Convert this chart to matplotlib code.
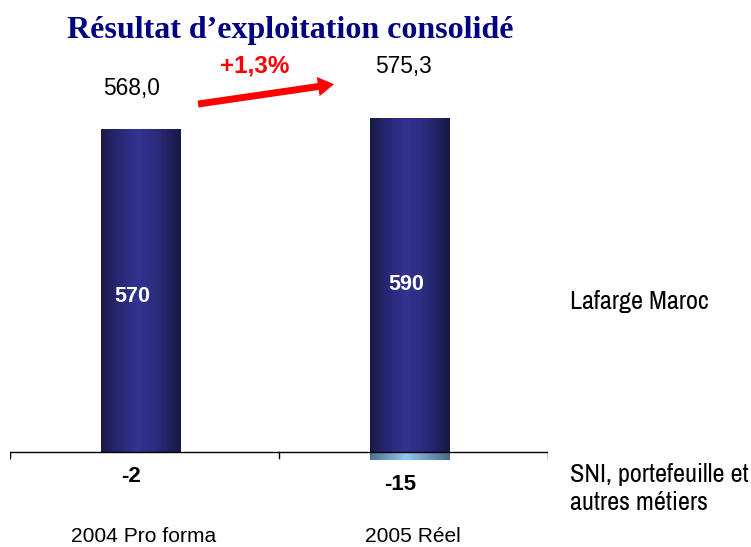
import numpy as np
import matplotlib
matplotlib.use("Agg")
import matplotlib.pyplot as plt
from matplotlib import font_manager as fm
from matplotlib.colors import LinearSegmentedColormap

categories = ["2004 Pro forma", "2005 Réel"]
lafarge = [570, 590]
sni = [-2, -15]
totals = ["568,0", "575,3"]
growth = "+1,3%"
series_names = ["Lafarge Maroc", "SNI, portefeuille et", "autres métiers"]
title = "Résultat d\u2019exploitation consolidé"

available = {f.name for f in fm.fontManager.ttflist}


def pick(cands):
    for c in cands:
        if c in available:
            return c
    return "DejaVu Sans"


SANS = pick(["Liberation Sans", "Arimo", "DejaVu Sans"])
NARROW = pick(["Liberation Sans Narrow", "Arimo Narrow", "Archivo Narrow", "PT Sans Narrow",
               "Roboto Condensed", "IBM Plex Sans Condensed", SANS])
SERIF = pick(["Liberation Serif", "Tinos", "DejaVu Serif"])

W, H = 751, 547
fig = plt.figure(figsize=(W / 100, H / 100), dpi=100)
ax = fig.add_axes([10 / W, 10 / H, 538 / W, 510 / H])
ax.axis("off")

x = np.arange(len(categories))
shift = -0.013
bw = 0.294

cm_pos = LinearSegmentedColormap.from_list(
    "pos", [(0, "#1a1a48"), (0.2, "#262672"), (0.45, "#333392"), (0.7, "#2b2b7c"), (1, "#181845")])
cm_neg = LinearSegmentedColormap.from_list(
    "neg", [(0, "#4f6f90"), (0.45, "#90c8f2"), (1, "#4a6a8a")])
grad = np.linspace(0, 1, 256).reshape(1, -1)


def gradient_bars(vals, cmap):
    bars = ax.bar(x + shift, vals, bw, color="none", edgecolor="none", zorder=2)
    for b in bars:
        x0, y0 = b.get_x(), b.get_y()
        w, h = b.get_width(), b.get_height()
        im = ax.imshow(grad, cmap=cmap, aspect="auto", extent=[x0, x0 + w, y0, y0 + h],
                       zorder=2, interpolation="bilinear")
        im.set_clip_path(b)
    return bars


gradient_bars(lafarge, cm_pos)
gradient_bars(sni, cm_neg)
ax.set_xlim(-0.5, 1.5)
ax.set_ylim(-150, 750)

# axis line and ticks at category boundaries
ax.plot([-0.5, 1.5], [0, 0], color="black", lw=1, zorder=3)
for tx in [-0.5, 0.5, 1.5]:
    ax.plot([tx, tx], [0, -11], color="black", lw=1, zorder=3)

# value labels inside the bars
in_off = [(-9, -3), (-4, 3)]
for i, v in enumerate(lafarge):
    ax.annotate(str(v), (x[i] + shift, v / 2), xytext=in_off[i], textcoords="offset pixels",
                ha="center", va="center_baseline", color="white",
                fontsize=15.5, fontweight="bold", family=SANS, zorder=4)

for i, v in enumerate(sni):
    ax.annotate(str(v), (x[i] + shift, v), xytext=(-10, -21), textcoords="offset pixels",
                ha="center", va="center_baseline", fontsize=16, fontweight="bold", family=SANS)

# totals above the bars
tot_off = [(-9, 42.5), (-7, 54)]
tot_txt = []
for i, t in enumerate(totals):
    tt = ax.annotate(t, (x[i] + shift, lafarge[i]), xytext=tot_off[i], textcoords="offset pixels",
                     ha="center", va="center_baseline", fontsize=17, family=SANS)
    tot_txt.append(tt)

# growth arrow
ax.annotate("", xy=(0.7045, 649), xytext=(0.199, 614),
            arrowprops=dict(arrowstyle="simple,head_length=1.15,head_width=1.4,tail_width=0.5",
                            mutation_scale=10, color="#ff0000", lw=0, shrinkA=0, shrinkB=0),
            annotation_clip=False)


def ftext(px, py, s, **kw):
    return fig.text(px / W, 1 - py / H, s, **kw)


g = ftext(255, 63, growth, color="#ff0000", fontsize=17.5, fontweight="bold",
          ha="center", va="center_baseline", family=SANS)

# category labels
cat_txt = []
for i, c in enumerate(categories):
    t = ax.annotate(c, (x[i] + shift, 0), xytext=(3, -83), textcoords="offset pixels",
                    ha="center", va="center_baseline", fontsize=14, family=SANS,
                    annotation_clip=False)
    cat_txt.append(t)

# series labels
s1 = ftext(570, 309, series_names[0], ha="left", va="baseline", fontsize=18, family=NARROW)
s2 = ftext(570, 482, series_names[1], ha="left", va="baseline", fontsize=18, family=NARROW)
s3 = ftext(570, 510, series_names[2], ha="left", va="baseline", fontsize=18, family=NARROW)

ttl = ftext(290, 27, title, ha="center", va="center_baseline", fontsize=22,
            fontweight="bold", color="#000080", family=SERIF)

renderer = fig.canvas.get_renderer()


def fit_group(texts, ref, target):
    bb = ref.get_window_extent(renderer)
    if bb.width > 0:
        fs = ref.get_fontsize() * target / bb.width
        for t in texts:
            t.set_fontsize(fs)


fit_group([ttl], ttl, 446)
fit_group([s1, s2, s3], s1, 139)
fit_group(cat_txt, cat_txt[0], 146)
fit_group(tot_txt, tot_txt[0], 57)

fig.savefig("out.png", dpi=100)
